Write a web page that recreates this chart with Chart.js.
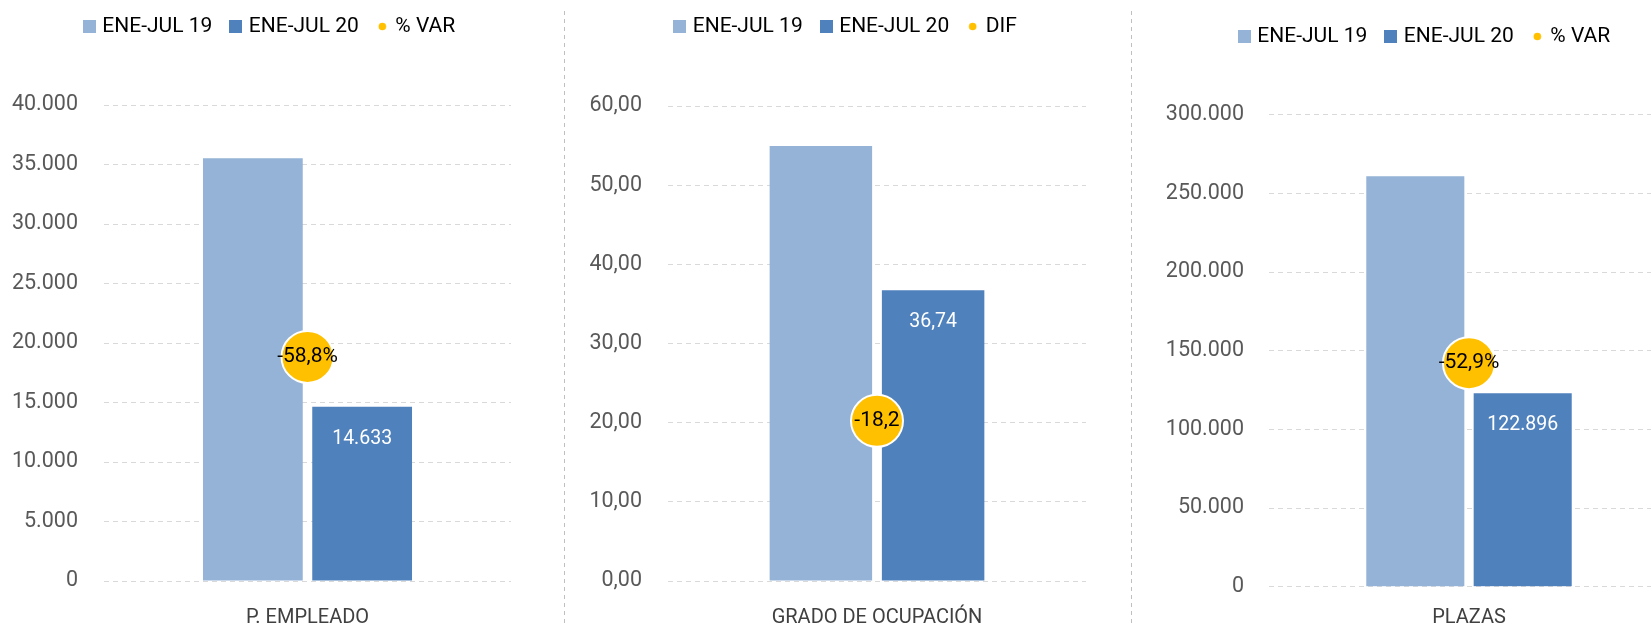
<!DOCTYPE html>
<html lang="es">

<head>
  <meta charset="utf-8">
  <title>ENE-JUL 19 / ENE-JUL 20</title>
  <style>
    html, body { margin: 0; padding: 0; background: #fff; overflow: hidden; }
    body { width: 1651px; height: 627px; position: relative; }
    .panel { position: absolute; height: 680px; }
    .divider {
      position: absolute; top: 11px; width: 1px; height: 620px;
      background: repeating-linear-gradient(to bottom, #bfbfbf 0 4px, transparent 4px 8px);
    }
  </style>
</head>

<body>
  <div class="panel" id="p0"><canvas id="c0"></canvas></div>
  <div class="panel" id="p1"><canvas id="c1"></canvas></div>
  <div class="panel" id="p2"><canvas id="c2"></canvas></div>
  <div class="divider" style="left:564px"></div>
  <div class="divider" style="left:1131px"></div>

  <script src="https://cdn.jsdelivr.net/npm/chart.js@4.4.1/dist/chart.umd.min.js"></script>
  <script>
    // datos
    var categories = ['P. EMPLEADO', 'GRADO DE OCUPACIÓN', 'PLAZAS'];
    var seriesNames = ['ENE-JUL 19', 'ENE-JUL 20'];
    var varNames = ['% VAR', 'DIF', '% VAR'];
    var ene19 = [35517, 54.94, 260926];
    var ene20 = [14633, 36.74, 122896];
    var variation = [-58.8, -18.2, -52.9];
    var varUnits = ['%', '', '%'];
    var decimals = [0, 2, 0];
    var axisMax = [40000, 60, 300000];
    var axisStep = [5000, 10, 50000];
    var varAxisMin = [-120, -30, -100.5];
    var varAxisMax = [10, 5, 0];

    // posicion de cada grafico en la pagina
    var panels = [
      { left: 0, top: -5, width: 542, axisW: 104, rightW: 31, plotTop: 105, plotBottom: 581, tickPad: 26, labelPad: 25 },
      { left: 564, top: -5, width: 566, axisW: 104, rightW: 44, plotTop: 106, plotBottom: 581, tickPad: 26, labelPad: 25 },
      { left: 1131, top: 5, width: 590, axisW: 138, rightW: 52, plotTop: 114.7, plotBottom: 586.7, tickPad: 25, labelPad: 19 }
    ];
    var H = 680;

    var light = '#95b3d7', dark = '#4f81bd', yellow = '#ffc000';
    var family = 'Roboto';
    var sizes = { legend: 21, tick: 21.5, category: 20, bar: 19.5, circle: 21 };
    Chart.defaults.font.family = family;

    function fmt(v, d) {
      var s = Math.abs(v).toFixed(d).split('.');
      s[0] = s[0].replace(/\B(?=(\d{3})+(?!\d))/g, '.');
      return (v < 0 ? '-' : '') + s.join(',');
    }

    function squareIcon(color) {
      var c = document.createElement('canvas');
      c.width = 13; c.height = 13;
      var x = c.getContext('2d');
      x.fillStyle = color;
      x.fillRect(0, 0, 13, 13);
      return c;
    }
    function dotIcon(color) {
      var c = document.createElement('canvas');
      c.width = 13; c.height = 13;
      var x = c.getContext('2d');
      x.fillStyle = color;
      x.beginPath();
      x.arc(6.5, 6.5, 3.8, 0, Math.PI * 2);
      x.fill();
      return c;
    }
    var icons = [squareIcon(light), squareIcon(dark), dotIcon(yellow)];

    function legendSpace(h) {
      return {
        id: 'legendSpace',
        beforeInit: function (chart) {
          var fit = chart.legend.fit;
          chart.legend.fit = function () { fit.call(this); this.height = h; };
        }
      };
    }

    function valueLabels(i) {
      return {
        id: 'valueLabels',
        afterDatasetsDraw: function (chart) {
          var ctx = chart.ctx;
          ctx.save();
          ctx.textAlign = 'center';
          ctx.textBaseline = 'middle';
          var bar = chart.getDatasetMeta(1).data[0];
          ctx.font = sizes.bar + 'px ' + family;
          ctx.fillStyle = '#ffffff';
          ctx.fillText(fmt(ene20[i], decimals[i]), bar.x, bar.y + 32);
          var pt = chart.getDatasetMeta(2).data[0];
          ctx.font = sizes.circle + 'px ' + family;
          ctx.fillStyle = '#000000';
          ctx.fillText(fmt(variation[i], 1) + varUnits[i], pt.x, pt.y);
          ctx.restore();
        }
      };
    }

    function draw(i) {
      var p = panels[i];
      var box = document.getElementById('p' + i);
      box.style.left = p.left + 'px';
      box.style.top = p.top + 'px';
      box.style.width = p.width + 'px';
      var xH = sizes.category * 1.2 + p.labelPad;
      var pb = H - (p.plotBottom - p.top) - xH;

      new Chart(document.getElementById('c' + i), {
        type: 'bar',
        data: {
          labels: [categories[i]],
          datasets: [{
            label: seriesNames[0],
            data: [ene19[i]],
            backgroundColor: light,
            order: 1
          }, {
            label: seriesNames[1],
            data: [ene20[i]],
            backgroundColor: dark,
            order: 2
          }, {
            type: 'line',
            label: varNames[i],
            data: [variation[i]],
            yAxisID: 'y1',
            showLine: false,
            pointRadius: 26,
            pointHoverRadius: 26,
            pointBackgroundColor: yellow,
            pointBorderColor: '#ffffff',
            pointBorderWidth: 2,
            order: 0
          }]
        },
        options: {
          responsive: true,
          maintainAspectRatio: false,
          animation: false,
          events: [],
          layout: { padding: { top: 0, left: 0, right: 0, bottom: pb } },
          datasets: { bar: { barPercentage: 0.913, categoryPercentage: 0.537, borderWidth: 0 } },
          plugins: {
            tooltip: { enabled: false },
            legend: {
              position: 'top',
              labels: {
                usePointStyle: true,
                pointStyleWidth: 5,
                padding: 21,
                color: '#000000',
                font: { size: sizes.legend },
                generateLabels: function (chart) {
                  return chart.data.datasets.map(function (ds, j) {
                    return {
                      text: ds.label, pointStyle: icons[j], fillStyle: 'transparent',
                      strokeStyle: 'transparent', lineWidth: 0, hidden: false, datasetIndex: j, fontColor: '#000000'
                    };
                  });
                }
              }
            }
          },
          scales: {
            x: {
              grid: { display: false, drawTicks: false },
              border: { display: false },
              ticks: { color: '#404040', font: { size: sizes.category }, padding: p.labelPad },
              afterFit: function (s) { s.height = xH; }
            },
            y: {
              position: 'left',
              min: 0,
              max: axisMax[i],
              ticks: {
                stepSize: axisStep[i],
                color: '#595959',
                font: { size: sizes.tick },
                padding: p.tickPad,
                callback: function (v) { return fmt(v, decimals[i]); }
              },
              grid: { color: '#d9d9d9', lineWidth: 1, drawTicks: false },
              border: { display: false, dash: [5, 4] },
              afterFit: function (s) { s.width = p.axisW; }
            },
            y1: {
              position: 'right',
              min: varAxisMin[i],
              max: varAxisMax[i],
              ticks: { display: false },
              grid: { display: false, drawTicks: false },
              border: { display: false },
              afterFit: function (s) { s.width = p.rightW; }
            }
          }
        },
        plugins: [legendSpace(p.plotTop - p.top), valueLabels(i)]
      });
    }

    for (var i = 0; i < categories.length; i++) draw(i);
  </script>
</body>

</html>
